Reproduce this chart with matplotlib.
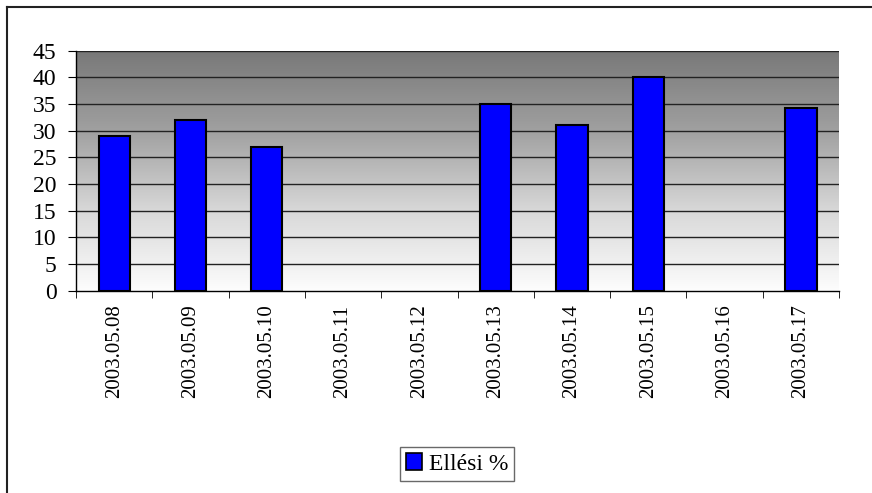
import numpy as np
import matplotlib.pyplot as plt
from matplotlib.colors import LinearSegmentedColormap
from matplotlib.lines import Line2D
from matplotlib.patches import Patch

# Data
dates = ["2003.05.08", "2003.05.09", "2003.05.10", "2003.05.11", "2003.05.12",
         "2003.05.13", "2003.05.14", "2003.05.15", "2003.05.16", "2003.05.17"]
elles = [29, 32, 27, 0, 0, 35, 31, 40, 0, 34.3]
yticks = [0, 5, 10, 15, 20, 25, 30, 35, 40, 45]

plt.rcParams['font.family'] = 'Liberation Serif'

fig = plt.figure(figsize=(8.72, 4.93), dpi=100)
ax = fig.add_axes([0.0872, 0.4103, 0.8750, 0.4869])

x = np.arange(len(dates))

# gray gradient background, dark at top
grad = np.linspace(0, 1, 256).reshape(-1, 1)
cmap = LinearSegmentedColormap.from_list('g', ['#fdfdfd', '#d8d8d8', '#a0a0a0', '#787878'])
ax.imshow(grad, extent=(-0.5, len(dates) - 0.5, 0, 45), aspect='auto',
          cmap=cmap, origin='lower', zorder=0)

for v in yticks[1:]:
    ax.axhline(v, color='#222222', lw=1.0, zorder=1)

ax.bar(x, [v if v > 0 else np.nan for v in elles], width=0.41, color='#0000ff',
       edgecolor='black', linewidth=1.5, zorder=2)

ax.set_xlim(-0.5, len(dates) - 0.5)
ax.set_ylim(0, 45)
ax.set_yticks(yticks)
ax.set_xticks(x)
ax.set_xticklabels(dates, rotation=90, fontsize=15)
ax.set_xticks(np.arange(len(dates) + 1) - 0.5, minor=True)
ax.tick_params(axis='x', which='major', length=0, pad=10)
ax.tick_params(axis='x', which='minor', length=5, direction='out', color='black')
ax.tick_params(axis='y', length=6, direction='out', labelsize=17, pad=8)

for s in ['top', 'right']:
    ax.spines[s].set_visible(False)
ax.spines['left'].set_linewidth(1.0)
ax.spines['bottom'].set_linewidth(1.0)

# legend box below the chart
fig.legend(handles=[Patch(facecolor='#0000ff', edgecolor='black', linewidth=1.2, label='Ellési %')],
           loc='center', bbox_to_anchor=(457 / 872, 1 - 464 / 493), fontsize=17,
           frameon=True, fancybox=False, edgecolor='#444444', handlelength=0.7,
           handleheight=0.7, handletextpad=0.3, borderpad=0.25, borderaxespad=0)

# outer chart frame (top and left edges)
fig.add_artist(Line2D([6.5 / 872, 1], [1 - 6.5 / 493] * 2, transform=fig.transFigure,
                      color='#222222', linewidth=1.5))
fig.add_artist(Line2D([6.5 / 872] * 2, [0, 1 - 6.5 / 493], transform=fig.transFigure,
                      color='#222222', linewidth=1.5))

fig.savefig('out.png', dpi=100)
